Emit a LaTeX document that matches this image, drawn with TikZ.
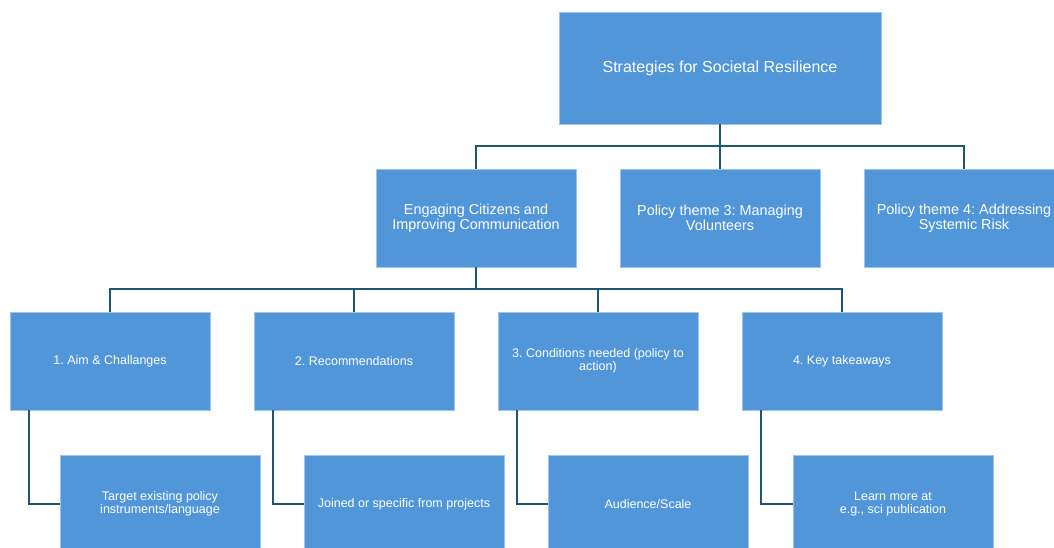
\documentclass[tikz,border=0pt]{standalone}
\usepackage{fontspec}
\setmainfont{Liberation Sans}
\frenchspacing
\usetikzlibrary{positioning}
\definecolor{boxblue}{RGB}{80,150,217}
\definecolor{boxedge}{RGB}{160,197,232}
\definecolor{linkblue}{RGB}{30,85,115}
\tikzset{>=latex}
\tikzset{
  orgbox/.style={draw=boxedge, thin, fill=boxblue, text=white, align=center, inner sep=2pt},
  topbox/.style={orgbox, minimum width=322pt, minimum height=112pt,
    font=\fontsize{16}{17}\selectfont},
  themebox/.style={orgbox, minimum width=200pt, minimum height=98pt,
    font=\fontsize{14.4}{14.6}\selectfont},
  stepbox/.style={orgbox, minimum width=200pt, minimum height=98pt,
    font=\fontsize{12.5}{13.3}\selectfont},
  link/.style={linkblue, line width=2pt}
}

\begin{document}
\begin{tikzpicture}[x=1pt, y=-1pt]
  \useasboundingbox (0,0) rectangle (1054,548); %
  \clip (0,0) rectangle (1054,548); %
  % top level
  \node[topbox] (top) at (720,68) {Strategies for Societal Resilience}; %
  % policy themes
  \node[themebox] (theme1) at (476,218) {Engaging Citizens and\\Improving Communication}; %
  \node[themebox] (theme2) at (720,218) {Policy theme 3: Managing\\Volunteers}; %
  \node[themebox] (theme3) at (964,218) {Policy theme 4: Addressing\\Systemic Risk}; %
  % steps
  \node[stepbox] (step1) at (110,361) {1. Aim \& Challanges}; %
  \node[stepbox] (step2) at (354,361) {2. Recommendations}; %
  \node[stepbox] (step3) at (598,361) {3. Conditions needed (policy to\\action)}; %
  \node[stepbox] (step4) at (842,361) {4. Key takeaways}; %
  % details
  \node[stepbox] (detail1) at (160,504) {Target existing policy\\instruments/language}; %
  \node[stepbox] (detail2) at (404,504) {Joined or specific from projects}; %
  \node[stepbox] (detail3) at (648,504) {Audience/Scale}; %
  \node[stepbox] (detail4) at (893,504) {Learn more at\\e.g., sci publication}; %
  % connectors
  \coordinate (bus1) at (720,146); %
  \coordinate (bus2) at (476,289); %
  \draw[link] (top.south) -- (theme2.north); %
  \draw[link] (bus1) -| (theme1.north); %
  \draw[link] (bus1) -| (theme3.north); %
  \draw[link] (theme1.south) -- (bus2); %
  \foreach \n in {1,...,4} {
    \draw[link] (bus2) -| (step\n.north); %
    \draw[link] (step\n.south west) ++(19.5,0) |- (detail\n.west); %
  }
\end{tikzpicture}
\end{document}
